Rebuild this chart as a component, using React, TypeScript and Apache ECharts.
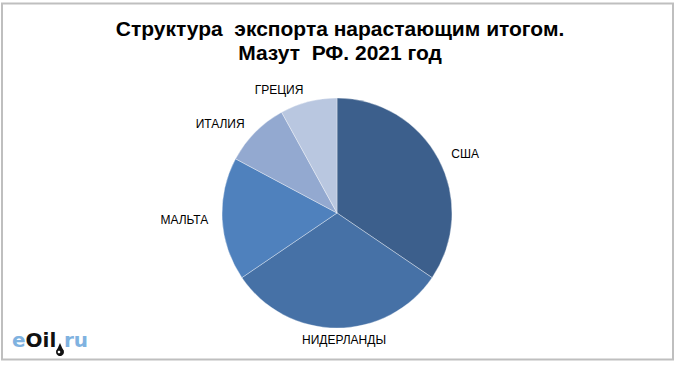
import React, { useEffect, useRef } from "react";
import * as echarts from "echarts";

const categories = ["США", "НИДЕРЛАНДЫ", "МАЛЬТА", "ИТАЛИЯ", "ГРЕЦИЯ"];
const shares = [34.5, 31.0, 17.3, 9.2, 8.0];
const colors = ["#3c5f8c", "#4671a6", "#4f81bd", "#93a9d0", "#b9c7e0"];
const titleLines = ["Структура  экспорта нарастающим итогом.", "Мазут  РФ. 2021 год"];

export default function App() {
  const ref = useRef<HTMLDivElement>(null);
  useEffect(() => {
    if (!ref.current) return;
    const chart = echarts.init(ref.current, null, { renderer: "svg" });
    const logoFont = "DejaVu Sans, Verdana, sans-serif";
    chart.setOption({
      animation: false,
      backgroundColor: "#ffffff",
      title: {
        text: titleLines.join("\n"),
        left: "center",
        top: 11,
        textStyle: {
          fontFamily: "Liberation Sans, Arial, sans-serif",
          fontSize: 21,
          fontWeight: "bold",
          color: "#000",
          lineHeight: 24,
        },
      },
      graphic: [
        {
          type: "rect",
          shape: { x: 2, y: 3.5, width: 671, height: 356 },
          style: { fill: "none", stroke: "#bfbfbf", lineWidth: 2 },
          silent: true,
        },
        {
          type: "text",
          x: 12,
          y: 350,
          style: {
            text: "{e|e}{o|Oil}",
            verticalAlign: "bottom",
            rich: {
              e: { fontFamily: logoFont, fontSize: 20, fontWeight: "bold", fill: "#7fb2e0" },
              o: { fontFamily: logoFont, fontSize: 20, fontWeight: "bold", fill: "#111" },
            },
          },
        },
        {
          type: "text",
          x: 64,
          y: 350,
          style: {
            text: "ru",
            verticalAlign: "bottom",
            fontFamily: logoFont,
            fontSize: 20,
            fontWeight: "bold",
            fill: "#7fb2e0",
          },
        },
        {
          type: "polygon",
          shape: { points: [[60, 343], [56.5, 351], [63.5, 351]] },
          style: { fill: "#111" },
        },
        {
          type: "circle",
          shape: { cx: 60, cy: 352, r: 4 },
          style: { fill: "#111" },
        },
        {
          type: "circle",
          shape: { cx: 59, cy: 352, r: 1.3 },
          style: { fill: "#ffffff" },
        },
      ],
      series: [
        {
          type: "pie",
          center: [337, 213],
          radius: 115,
          startAngle: 90,
          clockwise: true,
          avoidLabelOverlap: false,
          data: categories.map((name, i) => ({
            name,
            value: shares[i],
            itemStyle: { color: colors[i] },
          })),
          itemStyle: { borderColor: "rgba(255,255,255,0.35)", borderWidth: 1 },
          label: {
            show: true,
            position: "outside",
            formatter: "{b}",
            fontFamily: "Liberation Sans, Arial, sans-serif",
            fontSize: 12,
            color: "#000",
            distanceToLabelLine: 2,
          },
          labelLine: { show: false, length: 12, length2: 0 },
          labelLayout: (params: any) => {
            if (params.dataIndex === 1) return { align: "center", dx: 5 };
            return {};
          },
          emphasis: { disabled: true },
        },
      ],
    });
    return () => chart.dispose();
  }, []);
  return (
    <div
      ref={ref}
      style={{ position: "fixed", left: 0, top: 0, width: 680, height: 367 }}
    />
  );
}
